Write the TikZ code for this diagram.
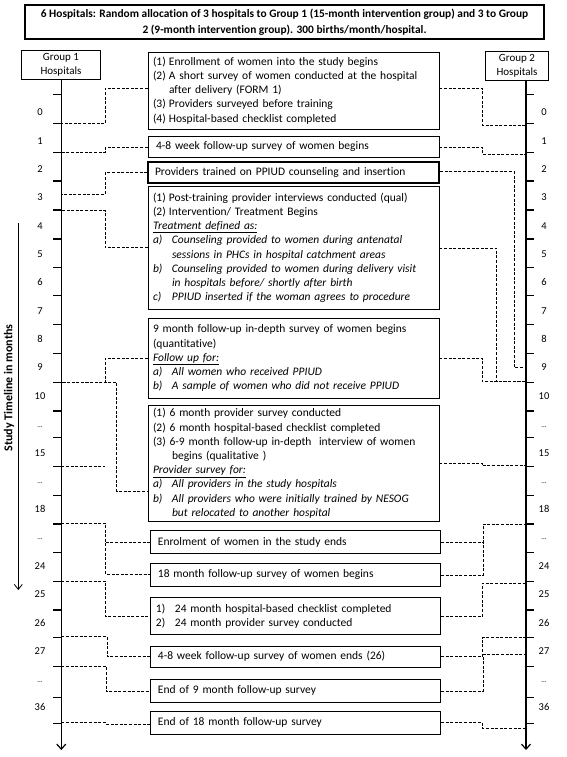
\documentclass[tikz,border=0pt]{standalone}
\usepackage{fontspec}
\setmainfont{Carlito}[Ligatures={NoCommon}]
\usetikzlibrary{arrows.meta}
\newcommand\li[2]{\makebox[#1][l]{#2}}
\newcommand\mydots{{\fontsize{7}{8}\selectfont...}}
\begin{document}
\begin{tikzpicture}[x=1pt,y=-1pt,
 mbox/.style={draw, line width=0.8pt, inner xsep=5pt, inner ysep=0pt, align=left, font=\fontsize{11.5}{14.2}\selectfont, text width=281pt, minimum width=291pt},
 sbox/.style={mbox, inner xsep=8pt, text width=275pt},
 lbox/.style={sbox, text width=274.7pt, minimum width=290.7pt},
 conn/.style={line width=0.8pt, dash pattern=on 3pt off 1.6pt},
 tl/.style={line width=1.2pt, -{Straight Barb[length=5pt,width=9pt,line width=1.2pt]}},
 tick/.style={line width=1.2pt},
 num/.style={font=\fontsize{10.5}{12}\selectfont, inner sep=0pt}
]
\path[use as bounding box, fill=white] (0,0) rectangle (567,757);

% title
\node[draw, line width=1.2pt, minimum width=519pt, minimum height=34pt, align=center, inner sep=0pt,
      font=\bfseries\fontsize{11.4}{16}\selectfont] (title) at (284.5,22)
 {6 Hospitals: Random allocation of 3 hospitals to Group 1 (15-month intervention group) and 3 to Group\\2 (9-month intervention group). 300 births/month/hospital.};

% group boxes
\node[draw, line width=0.8pt, minimum width=79pt, minimum height=29pt, align=center, inner sep=0pt,
      font=\fontsize{11}{14}\selectfont] (g1) at (61,64.5) {Group 1\\Hospitals};
\node[draw, line width=0.8pt, minimum width=62.6pt, minimum height=29.7pt, align=center, inner sep=0pt,
      font=\fontsize{11}{14}\selectfont] (g2) at (517,65.85) {Group 2\\Hospitals};

% timelines
\coordinate (Lt) at (61.3,79);
\coordinate (Rt) at (526,80.7);
\draw[tl] (Lt) -- (61.3,750);
\draw[tl] (Rt) -- (526,750);
\foreach \y in {94.3,123.3,152.3,181,210,239,267.7,295.7,324.3,353.3,382.3,411,437.7,466.7,495.7,524,552.7,581.7,610,637.7,666.7,697.3,723.3}{
  \draw[tick] (53,\y) -- (Lt |- 0,\y);
  \draw[tick] (Rt |- 0,\y) -- (534,\y);
}
\foreach \y/\t [count=\i] in {112.3/0,140.7/1,169.3/2,197.3/3,226/4,254/5,282.3/6,310.7/7,339.3/8,367.3/9,396/10,426.7/\mydots,452.7/15,483.3/\mydots,509.3/18,539.3/\mydots,566/24,594/25,622.7/26,650.7/27,681.7/\mydots,707.3/36}{
  \node[num] (ll\i) at (40,\y) {\t};
  \node[num] (rl\i) at (544,\y) {\t};
}

% study timeline label
\node[font=\bfseries\fontsize{12}{14}\selectfont, rotate=90, inner sep=0pt] (stl) at (9,388) {Study Timeline in months};
\coordinate (sa) at (18.3,223);
\draw[line width=0.8pt, -{Straight Barb[length=5pt,width=8pt]}] (sa) -- (18.3,590);

% boxes
\node[mbox, minimum height=77pt] (b1) at (293.5,90.5) {%
\li{16pt}{(1)}Enrollment of women into the study begins\\
\li{16pt}{(2)}A short survey of women conducted at the hospital\\
\hspace*{16pt}after delivery (FORM 1)\\
\li{16pt}{(3)}Providers surveyed before training\\
\li{16pt}{(4)}Hospital-based checklist completed};

\node[sbox, minimum height=21.3pt] (b2) at (293.5,146.7) {4-8 week follow-up survey of women begins};
\node[sbox, line width=1.8pt, inner xsep=7pt, text width=277pt, minimum height=21pt] (b3) at (293.5,172.2) {Providers trained on PPIUD counseling and insertion};

\node[mbox, minimum height=123.3pt] (b4) at (293.5,247.7) {%
\li{16pt}{(1)}Post-training provider interviews conducted (qual)\\
\li{16pt}{(2)}Intervention/ Treatment Begins\\
\underline{\textit{Treatment defined as:}}\\
\textit{\li{19pt}{a)}Counseling provided to women during antenatal}\\
\textit{\hspace*{19pt}sessions in PHCs in hospital catchment areas}\\
\textit{\li{19pt}{b)}Counseling provided to women during delivery visit}\\
\textit{\hspace*{19pt}in hospitals before/ shortly after birth}\\
\textit{\li{19pt}{c)}PPIUD inserted if the woman agrees to procedure}};

\node[mbox, minimum height=80pt] (b5) at (293.5,358.3) {%
9 month follow-up in-depth survey of women begins\\
(quantitative)\\
\underline{\textit{Follow up for:}}\\
\textit{\li{19pt}{a)}All women who received PPIUD}\\
\textit{\li{19pt}{b)}A sample of women who did not receive PPIUD}};

\node[mbox, minimum height=115.3pt] (b6) at (293.5,463.4) {%
(1) 6 month provider survey conducted\\
(2) 6 month hospital-based checklist completed\\
(3) 6-9 month follow-up in-depth\ \ interview of women\\
\hspace*{19pt}begins (qualitative )\\
\underline{\textit{Provider survey for:}}\\
\textit{\li{19pt}{a)}All providers in the study hospitals}\\
\textit{\li{19pt}{b)}All providers who were initially trained by NESOG}\\
\textit{\hspace*{19pt}but relocated to another hospital}};

\node[lbox, minimum height=22.6pt] (b7) at (295.3,542) {Enrolment of women in the study ends};
\node[lbox, minimum height=22.7pt] (b8) at (295.3,574.7) {18 month follow-up survey of women begins};
\node[lbox, inner xsep=6pt, text width=278.7pt, minimum height=36.6pt] (b9) at (295.3,616) {%
\li{19pt}{1)}24 month hospital-based checklist completed\\
\li{19pt}{2)}24 month provider survey conducted};
\node[lbox, minimum height=21.3pt] (b10) at (295.3,656.7) {4-8 week follow-up survey of women ends (26)};
\node[lbox, minimum height=23pt] (b11) at (295.3,690.8) {End of 9 month follow-up survey};
\node[lbox, minimum height=22.3pt] (b12) at (295.3,722.9) {End of 18 month follow-up survey};

% left connectors
\draw[conn] (b1.west |- 0,88.3) -| (105.3,123.3) -- (Lt |- 0,123.3);
\draw[conn] (b2.west |- 0,147.7) -| (105.3,152.3) -- (Lt |- 0,152.3);
\draw[conn] (b3.west |- 0,172.7) -| (105.3,194) -- (Lt |- 0,194);
\draw[conn] (b4.west |- 0,247.7) -| (105.3,210.7) -- (Lt |- 0,210.7);
\draw[conn] (b5.west |- 0,358.3) -| (105.3,382) -- (Lt |- 0,382);
\draw[conn, dash phase=2pt] (b6.west |- 0,491) -| (116.7,382) -- (Lt |- 0,382);
\coordinate (stub) at (105.3,466.7);
\draw[conn] (Lt |- stub) -- (stub);
\draw[conn] (Lt |- 0,523.3) -| (105.7,574.3) -- (b8.west |- 0,574.3);
\draw[conn] (105.7,542.3) -- (b7.west |- 0,542.3);
\draw[conn] (Lt |- 0,581) -| (105.7,616.7) -- (b9.west |- 0,616.7);
\draw[conn] (Lt |- 0,636.7) -| (107,656.7) -- (b10.west |- 0,656.7);
\draw[conn] (Lt |- 0,666) -| (106,691.7) -- (b11.west |- 0,691.7);
\draw[conn] (Lt |- 0,722.7) -| (106,724) -- (b12.west |- 0,724);

% right connectors
\draw[conn] (b1.east |- 0,88.3) -| (482.3,125) -- (Rt |- 0,125);
\draw[conn] (b2.east |- 0,147.3) -| (482.3,154.3) -- (Rt |- 0,154.3);
\draw[conn] (b3.east |- 0,171.7) -| (514.3,367.7) -- (Rt |- 0,367.7);
\draw[conn] (b4.east |- 0,248.3) -| (496.7,381.7) -- (Rt |- 0,381.7);
\draw[conn] (b5.east |- 0,358.3) -| (482.3,381.7) -- (Rt |- 0,381.7);
\draw[conn] (b6.east |- 0,463) -| (482.3,465.7) -- (Rt |- 0,465.7);
\draw[conn] (b7.east |- 0,542.3) -| (483.3,524) -- (Rt |- 0,524);
\draw[conn] (b8.east |- 0,575) -| (483.3,542.3);
\draw[conn] (b9.east |- 0,616.7) -| (482.3,583.3) -- (Rt |- 0,583.3);
\draw[conn] (b10.east |- 0,656.7) -| (482.3,637.7) -- (Rt |- 0,637.7);
\draw[conn] (b11.east |- 0,691) -| (483.3,654.3) -- (Rt |- 0,654.3);
\draw[conn] (b12.east |- 0,722.7) -| (482.3,728.3) -- (Rt |- 0,728.3);
\end{tikzpicture}
\end{document}
